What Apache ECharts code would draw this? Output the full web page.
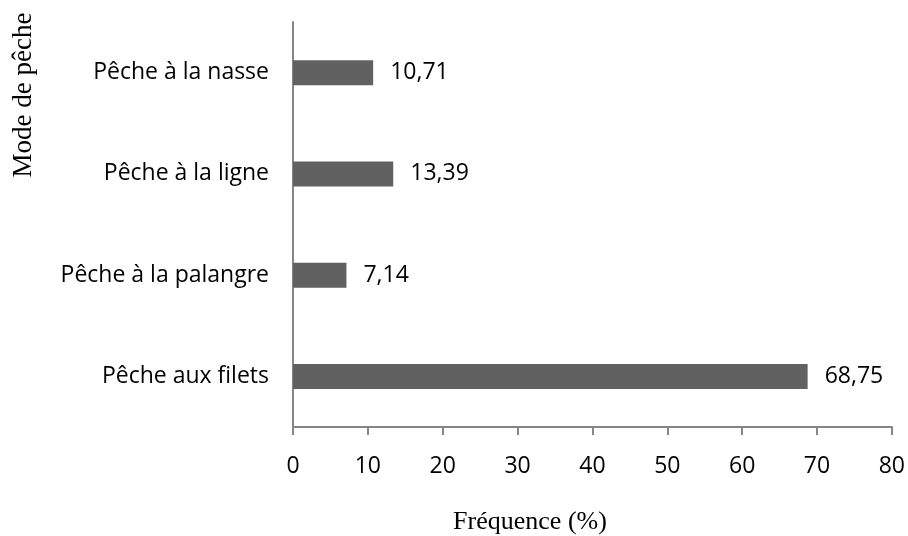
<!DOCTYPE html>
<html>
<head>
<meta charset="utf-8">
<script src="https://cdn.jsdelivr.net/npm/echarts@6/dist/echarts.min.js"></script>
<style>
  html, body { margin: 0; padding: 0; background: #fff; }
  #chart { width: 908px; height: 536px; }
</style>
</head>
<body>
<div id="chart"></div>
<script>
const categories = ['Pêche aux filets', 'Pêche à la palangre', 'Pêche à la ligne', 'Pêche à la nasse']
const frequencies = [68.75, 7.14, 13.39, 10.71]
const xTicks = [0, 10, 20, 30, 40, 50, 60, 70, 80]

const sans = '"Open Sans", "Noto Sans", sans-serif'
const serif = '"Liberation Serif", "DejaVu Serif", serif'
const axisGray = '#868686'

const chart = echarts.init(document.getElementById('chart'), null, { renderer: 'canvas' })
chart.setOption({
  backgroundColor: '#fff',
  animation: false,
  grid: { left: 293, right: 16, top: 22, bottom: 109, containLabel: false },
  xAxis: {
    type: 'value',
    min: xTicks[0],
    max: xTicks[xTicks.length - 1],
    interval: 10,
    axisLine: { show: true, lineStyle: { color: axisGray, width: 2 } },
    axisTick: { show: true, length: 8, lineStyle: { color: axisGray, width: 2 } },
    axisLabel: { fontFamily: sans, fontSize: 23, color: '#000', margin: 28 },
    splitLine: { show: false }
  },
  yAxis: {
    type: 'category',
    data: categories,
    axisLine: { show: true, lineStyle: { color: axisGray, width: 2 } },
    axisTick: { show: false },
    axisLabel: { fontFamily: sans, fontSize: 23, color: '#000', margin: 24 }
  },
  graphic: [{
    type: 'text',
    x: 24,
    y: 95,
    rotation: Math.PI / 2,
    style: { text: 'Mode de pêche', font: '27px ' + serif, fill: '#000', align: 'center', verticalAlign: 'middle' }
  }, {
    type: 'text',
    x: 530,
    y: 522,
    style: { text: 'Fréquence (%)', font: '26px ' + serif, fill: '#000', align: 'center', verticalAlign: 'middle' }
  }],
  series: [{
    type: 'bar',
    data: frequencies,
    barWidth: 25,
    itemStyle: { color: '#616161' },
    label: {
      show: true,
      position: 'right',
      distance: 17,
      fontFamily: sans,
      fontSize: 23,
      color: '#000',
      formatter: p => p.value.toFixed(2).replace('.', ',')
    }
  }]
})
</script>
</body>
</html>
